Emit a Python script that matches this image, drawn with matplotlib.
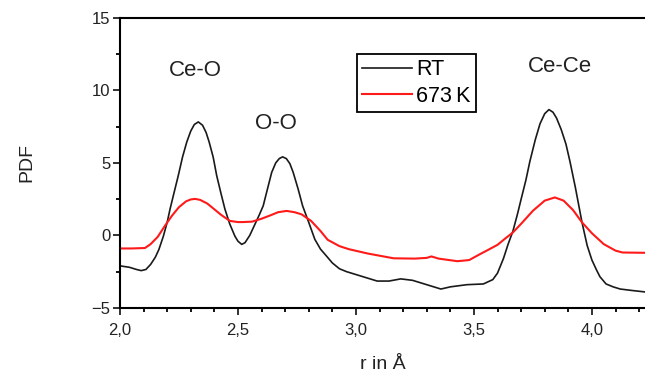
import matplotlib.pyplot as plt
from matplotlib.ticker import MultipleLocator

# RT curve: r (Angstrom) and PDF
r_rt = [2.0, 2.04, 2.07, 2.09, 2.11, 2.13, 2.15, 2.165, 2.184, 2.2, 2.212, 2.23, 2.247, 2.265,
        2.283, 2.3, 2.315, 2.332, 2.35, 2.365, 2.378, 2.395, 2.41, 2.428, 2.445, 2.465, 2.487,
        2.5, 2.516, 2.53, 2.55, 2.57, 2.59, 2.607, 2.625, 2.643, 2.66, 2.675, 2.689, 2.705,
        2.72, 2.734, 2.755, 2.774, 2.8, 2.826, 2.85, 2.876, 2.9, 2.93, 2.96, 3.0, 3.05, 3.09,
        3.14, 3.19, 3.24, 3.3, 3.36, 3.4, 3.47, 3.54, 3.58, 3.6, 3.625, 3.645, 3.665, 3.685,
        3.7, 3.72, 3.737, 3.76, 3.78, 3.8, 3.818, 3.835, 3.85, 3.87, 3.89, 3.907, 3.93, 3.958,
        3.98, 4.0, 4.02, 4.034, 4.06, 4.09, 4.12, 4.17, 4.225]
pdf_rt = [-2.1, -2.2, -2.35, -2.43, -2.35, -2.0, -1.5, -0.97, -0.05, 0.9, 1.8, 3.0, 4.12, 5.4,
          6.44, 7.2, 7.65, 7.83, 7.6, 7.1, 6.44, 5.4, 4.12, 2.9, 1.8, 0.8, -0.05,
          -0.4, -0.62, -0.5, 0.0, 0.7, 1.4, 2.04, 3.2, 4.35, 5.0, 5.3, 5.42, 5.3,
          4.95, 4.35, 3.2, 2.04, 0.9, -0.28, -0.95, -1.44, -1.9, -2.3, -2.5, -2.7, -2.95, -3.15,
          -3.15, -3.0, -3.1, -3.4, -3.7, -3.55, -3.4, -3.35, -3.05, -2.6, -1.6, -0.6, 0.28, 1.5,
          2.5, 3.8, 5.1, 6.6, 7.7, 8.4, 8.68, 8.5, 8.1, 7.3, 6.3, 5.1, 3.3, 0.9,
          -0.7, -1.7, -2.4, -2.85, -3.35, -3.55, -3.7, -3.8, -3.9]

# 673 K curve
r_673 = [2.0, 2.05, 2.106, 2.13, 2.16, 2.19, 2.22, 2.25, 2.28, 2.3, 2.318, 2.34, 2.37, 2.4,
         2.43, 2.466, 2.5, 2.52, 2.56, 2.6, 2.64, 2.67, 2.706, 2.74, 2.77, 2.81, 2.85, 2.88,
         2.93, 2.97, 3.05, 3.1, 3.16, 3.25, 3.3, 3.32, 3.35, 3.43, 3.48, 3.525, 3.56, 3.6,
         3.63, 3.665, 3.7, 3.75, 3.8, 3.843, 3.88, 3.92, 3.958, 4.0, 4.05, 4.1, 4.13, 4.225]
pdf_673 = [-0.9, -0.9, -0.87, -0.6, -0.1, 0.65, 1.35, 1.95, 2.35, 2.48, 2.52, 2.45, 2.2, 1.8,
           1.4, 1.0, 0.92, 0.92, 0.95, 1.15, 1.4, 1.6, 1.69, 1.6, 1.45, 1.0, 0.3, -0.3,
           -0.74, -0.95, -1.25, -1.4, -1.58, -1.6, -1.55, -1.45, -1.6, -1.78, -1.7, -1.3, -1.0, -0.65,
           -0.25, 0.2, 0.8, 1.7, 2.4, 2.62, 2.4, 1.75, 0.9, 0.15, -0.6, -1.05, -1.18, -1.2]

series_names = ["RT", "673\u2009K"]
peak_names = ["Ce-O", "O-O", "Ce-Ce"]
peak_r = [2.32, 2.66, 3.865]
peak_y = [11.4, 7.7, 11.65]

xticks = [2.0, 2.5, 3.0, 3.5, 4.0]
xtick_labels = ["2,0", "2,5", "3,0", "3,5", "4,0"]
yticks = [-5, 0, 5, 10, 15]

plt.rcParams['font.family'] = ['Liberation Sans', 'DejaVu Sans']

fig = plt.figure(figsize=(6.45, 3.75), dpi=100)
ax = fig.add_axes([0.186, 0.179, 0.814, 0.773])

ax.plot(r_rt, pdf_rt, color='#1a1a1a', linewidth=1.2, label=series_names[0])
ax.plot(r_673, pdf_673, color='#ff1a1a', linewidth=1.5, label=series_names[1])

for name, x, y in zip(peak_names, peak_r, peak_y):
    ax.text(x, y, name, fontsize=16, ha='center', va='center', color='#222222')

ax.set_xlim(2.0, 4.225)
ax.set_ylim(-5, 15)
ax.set_xticks(xticks)
ax.set_xticklabels(xtick_labels)
ax.set_yticks(yticks)
ax.xaxis.set_minor_locator(MultipleLocator(0.1))
ax.yaxis.set_minor_locator(MultipleLocator(2.5))
ax.tick_params(which='major', length=5, width=1.3, labelsize=12, colors='#222222')
ax.tick_params(axis='x', which='major', pad=6)
ax.tick_params(axis='y', which='major', pad=2)
ax.tick_params(which='minor', length=3, width=1.3)
ax.spines['right'].set_visible(False)
for s in ['left', 'bottom', 'top']:
    ax.spines[s].set_linewidth(1.5)

ax.set_xlabel("r in Å", fontsize=14, color='#222222', labelpad=13)
ax.set_ylabel("PDF", fontsize=14, color='#222222', labelpad=40)

leg = ax.legend(loc='upper left', bbox_to_anchor=(0.451, 0.876), fontsize=15.5,
                frameon=True, fancybox=False, edgecolor='black', framealpha=1,
                borderaxespad=0, handlelength=2.3, handletextpad=0.2,
                borderpad=0.25, labelspacing=0.25)
leg.get_frame().set_linewidth(1.3)

plt.savefig("out.png", dpi=100)
